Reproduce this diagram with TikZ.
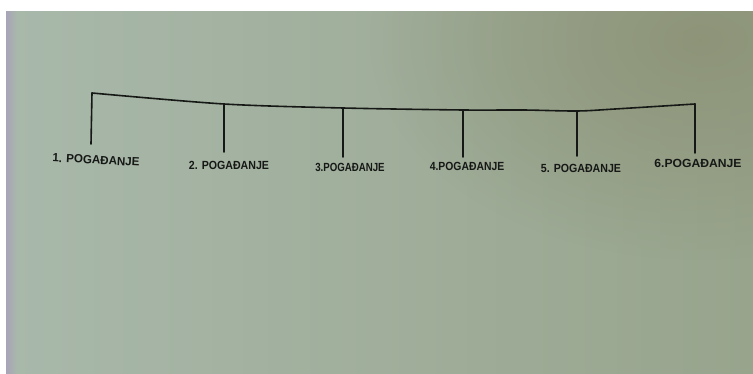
\documentclass[tikz,border=0pt]{standalone}
\usepackage{fontspec}
\setmainfont{Liberation Sans}
\usetikzlibrary{fadings}
\definecolor{paperL}{RGB}{168,184,170}
\definecolor{paperR}{RGB}{152,164,140}
\definecolor{paperTR}{RGB}{140,146,118}
\definecolor{strip}{RGB}{168,164,184}
\definecolor{ink}{RGB}{22,24,22}
\tikzfading[name=softspot, inner color=transparent!0, outer color=transparent!100]
\tikzset{
  lbl/.style={inner sep=0pt, text=ink, font=\bfseries\fontsize{11.8}{13}\selectfont},
  pen/.style={draw=ink, line width=1.6pt, line cap=round, line join=round},
}
\begin{document}
\begin{tikzpicture}[x=1pt,y=-1pt]
\useasboundingbox (0,0) rectangle (753,374);
\fill[white] (0,0) rectangle (753,374);
\begin{scope}
\clip (6,12) rectangle (753,374);
\shade[left color=paperL, right color=paperR] (6,12) rectangle (753,374);
\fill[paperTR, path fading=softspot, opacity=0.9] (700,40) ellipse [x radius=330, y radius=220];
\end{scope}
\shade[left color=strip, right color=paperL] (6,12) rectangle (17,374);
% hanging points on the bar
\coordinate (t1) at (92,93);
\coordinate (t2) at (224,104);
\coordinate (t3) at (343,108);
\coordinate (t4) at (463,110);
\coordinate (t5) at (577,111);
\coordinate (t6) at (695,104);
% lower ends of the drops
\coordinate (b1) at (91,144);
\coordinate (b2) at (224,152);
\coordinate (b3) at (343,157);
\coordinate (b4) at (463,157);
\coordinate (b5) at (577,156);
\coordinate (b6) at (695,153);
% labels
\node[lbl, rotate=-3] (l1) at (96,160) {\scalebox{0.98}[1]{1. POGAĐANJE}};
\node[lbl] (l2) at (229,165) {\scalebox{0.9}[1]{2. POGAĐANJE}};
\node[lbl] (l3) at (350,167) {\scalebox{0.82}[1]{3.POGAĐANJE}};
\node[lbl] (l4) at (467,166) {\scalebox{0.88}[1]{4.POGAĐANJE}};
\node[lbl] (l5) at (581,168) {\scalebox{0.9}[1]{5. POGAĐANJE}};
\node[lbl] (l6) at (698,163) {\scalebox{1.03}[1]{6.POGAĐANJE}};
% bar
\draw[pen] plot[smooth, tension=0.5] coordinates {(t1) (t2) (t3) (t4) (523,110) (t5) (615,109) (t6)};
% drops
\foreach \i in {1,...,6} \draw[pen] (t\i) -- (b\i);
\end{tikzpicture}
\end{document}
